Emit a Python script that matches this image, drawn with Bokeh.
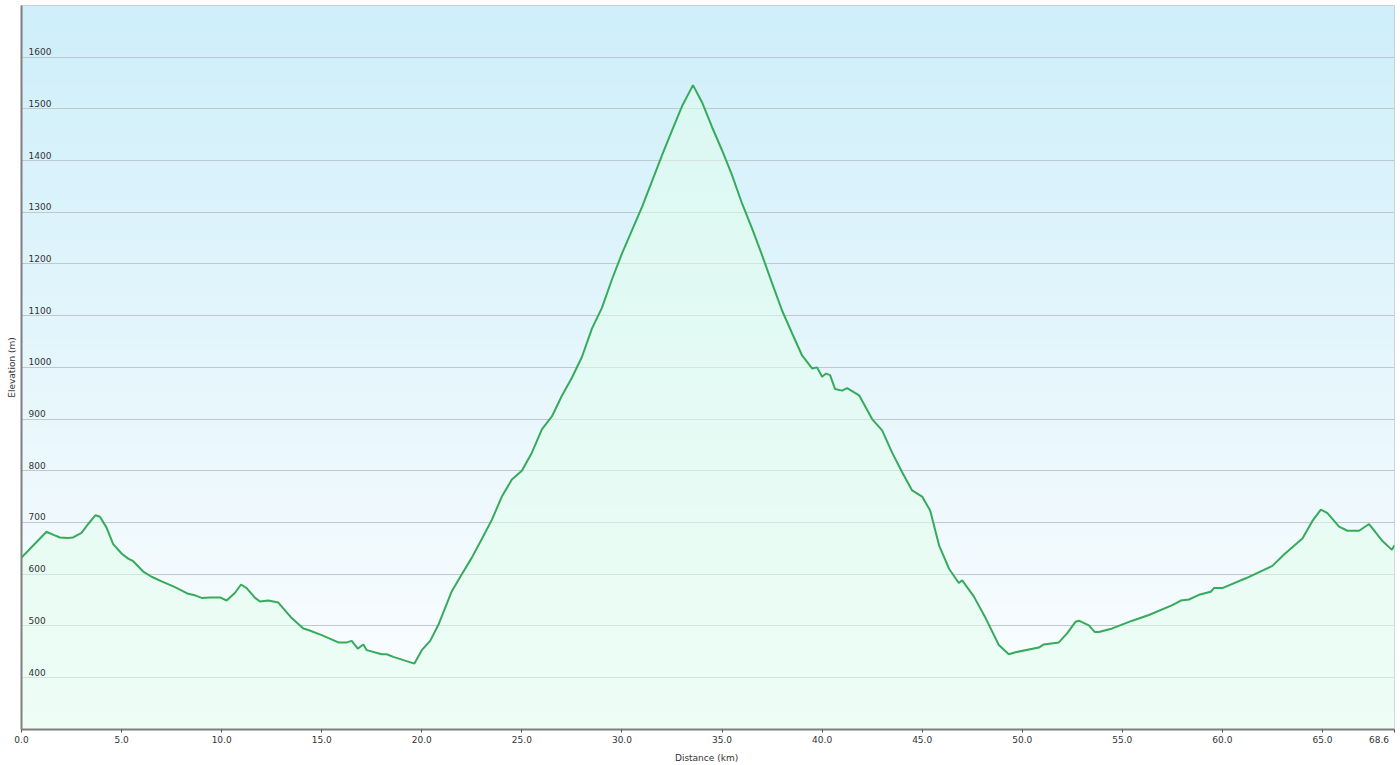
import numpy as np
from bokeh.plotting import figure
from bokeh.models import Range1d, FixedTicker, NumeralTickFormatter
from bokeh.core.properties import value
from bokeh.embed import file_html
from bokeh.resources import INLINE

# ---- data ----
distance_km = [0.0, 0.5, 1.25, 1.6, 1.92, 2.3, 2.58, 3.0, 3.33, 3.7, 3.92, 4.25, 4.58, 5.0,
               5.33, 5.58, 6.08, 6.5, 7.0, 7.67, 8.33, 8.67, 9.0, 9.42, 9.92, 10.25, 10.67,
               10.97, 11.25, 11.67, 11.92, 12.33, 12.83, 13.5, 14.08, 14.33, 15.0, 15.83,
               16.25, 16.5, 16.8, 17.08, 17.25, 18.0, 18.25, 18.58, 19.63, 20.0, 20.42,
               20.83, 21.5, 22.0, 22.5, 23.0, 23.5, 24.0, 24.5, 25.0, 25.5, 26.0, 26.5,
               27.0, 27.5, 28.0, 28.5, 29.0, 29.5, 30.0, 30.5, 31.0, 31.5, 32.0, 32.5,
               33.0, 33.55, 34.0, 34.5, 35.0, 35.5, 36.0, 36.5, 37.0, 37.5, 38.0, 38.5,
               39.0, 39.5, 39.75, 40.0, 40.2, 40.4, 40.65, 41.0, 41.25, 41.85, 42.5, 43.0,
               43.5, 44.0, 44.5, 45.0, 45.4, 45.85, 46.35, 46.83, 47.0, 47.58, 48.17,
               48.83, 49.33, 49.67, 50.83, 51.08, 51.83, 52.25, 52.67, 52.83, 53.33,
               53.63, 53.83, 54.5, 55.5, 56.33, 57.5, 57.92, 58.33, 58.83, 59.42, 59.58,
               60.0, 61.17, 62.5, 63.08, 64.0, 64.5, 64.92, 65.25, 65.83, 66.25, 66.83,
               67.33, 68.0, 68.47, 68.6]
elevation_m = [632, 652, 682, 676, 671, 670, 671, 680, 697, 714, 711, 690, 658, 640,
               630, 625, 605, 595, 586, 575, 562, 559, 554, 555, 555, 549, 564,
               580, 573, 554, 547, 549, 545, 515, 495, 492, 482, 468,
               468, 471, 456, 464, 453, 445, 445, 440, 427, 453, 471,
               502, 567, 600, 632, 668, 705, 750, 783, 800, 835, 880, 905,
               945, 980, 1020, 1075, 1115, 1170, 1220, 1265, 1310, 1360, 1410, 1458,
               1505, 1546, 1513, 1465, 1420, 1372, 1317, 1269, 1217, 1163, 1110, 1066,
               1023, 998, 1000, 982, 988, 985, 958, 955, 960, 946, 900, 878,
               835, 797, 762, 750, 723, 655, 610, 583, 588, 557, 515,
               463, 445, 449, 458, 464, 468, 486, 508, 510, 501,
               488, 488, 495, 510, 521, 540, 549, 551, 560, 566, 573,
               573, 592, 616, 638, 669, 703, 725, 718, 692, 684, 684,
               697, 664, 647, 656]

x_ticks = [0, 5, 10, 15, 20, 25, 30, 35, 40, 45, 50, 55, 60, 65, 68.6]
y_ticks = [400, 500, 600, 700, 800, 900, 1000, 1100, 1200, 1300, 1400, 1500, 1600]
y_tick_labels = [str(v) for v in y_ticks]

X0, X1 = 0, 68.6
Y0, Y1 = 299.5, 1700

FONT = "DejaVu Sans"
TXT = "#333333"

p = figure(width=1400, height=765, output_backend="svg", toolbar_location=None,
           x_range=Range1d(X0, X1), y_range=Range1d(Y0, Y1),
           min_border_left=21, min_border_right=6, min_border_top=5, min_border_bottom=36)

p.background_fill_color = "#ffffff"
p.border_fill_color = "#ffffff"
p.outline_line_color = "#c8c8c8"
p.outline_line_width = 1

# vertical background gradient (light blue at top to white at bottom)
n = 120
t = np.linspace(0, 1, n)[:, None]  # 0 bottom .. 1 top
top = np.array([207, 239, 250])
bot = np.array([253, 254, 255])
rgb = (bot + (top - bot) * t).astype(np.uint32)
img = (255 << 24) | (rgb[:, 2] << 16) | (rgb[:, 1] << 8) | rgb[:, 0]
img = img.reshape(n, 1).astype(np.uint32)
p.image_rgba(image=[img], x=X0, y=Y0, dw=X1 - X0, dh=Y1 - Y0, level="image")

# grid
p.xgrid.visible = False
p.ygrid.ticker = FixedTicker(ticks=y_ticks)
p.ygrid.grid_line_color = "#bfc9cd"
p.ygrid.grid_line_width = 1

# area + line
p.varea(x=distance_km, y1=Y0, y2=elevation_m, fill_color="#e2fdec", fill_alpha=0.55)
p.line(distance_km, elevation_m, line_color="#36ab5b", line_width=2)

# y tick labels inside the plot
p.text(x=[X0] * len(y_ticks), y=y_ticks, text=y_tick_labels, x_offset=7, y_offset=-2,
       text_font=value(FONT), text_font_size="9px", text_color=TXT,
       text_align="left", text_baseline="bottom")

# y axis (line + title only)
ya = p.yaxis[0]
ya.ticker = FixedTicker(ticks=[])
ya.axis_line_color = "#7f7f7f"
ya.axis_line_width = 2
ya.major_tick_line_color = None
ya.minor_tick_line_color = None
ya.major_tick_out = 0
ya.major_label_standoff = 0
ya.axis_label = "Elevation (m)"
ya.axis_label_standoff = 5
ya.axis_label_text_font = FONT
ya.axis_label_text_font_size = "9px"
ya.axis_label_text_font_style = "normal"
ya.axis_label_text_color = TXT

# x axis
xa = p.xaxis[0]
xa.ticker = FixedTicker(ticks=x_ticks)
xa.formatter = NumeralTickFormatter(format="0.0")
xa.major_label_overrides = {68.6: "68.6    "}
xa.axis_line_color = "#7f7f7f"
xa.axis_line_width = 2
xa.major_tick_line_color = "#555555"
xa.major_tick_in = 0
xa.major_tick_out = 3
xa.minor_tick_line_color = None
xa.major_label_standoff = 2
xa.major_label_text_font = FONT
xa.major_label_text_font_size = "9px"
xa.major_label_text_color = TXT
xa.axis_label = "Distance  (km)"
xa.axis_label_standoff = 5
xa.axis_label_text_font = FONT
xa.axis_label_text_font_size = "9px"
xa.axis_label_text_font_style = "normal"
xa.axis_label_text_color = TXT

open("out.html", "w").write(file_html(p, INLINE))
